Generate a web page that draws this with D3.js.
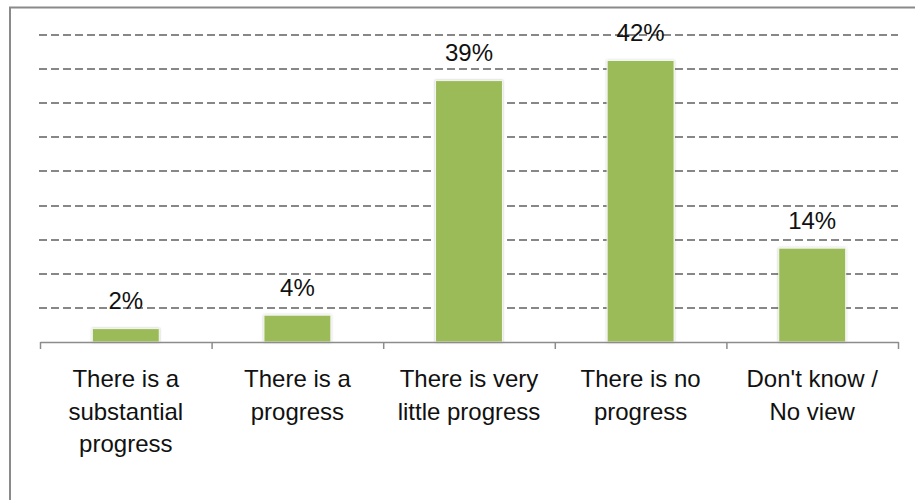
<!DOCTYPE html>
<html>
<head>
<meta charset="utf-8">
<script src="https://cdn.jsdelivr.net/npm/d3@7/dist/d3.min.js"></script>
<style>
  html, body { margin: 0; padding: 0; background: #ffffff; }
  svg { display: block; }
  text { font-family: "Liberation Sans", Arial, sans-serif; fill: #111111; }
</style>
</head>
<body>
<svg id="chart" width="915" height="500"></svg>
<script>
// Survey answers: perceived progress
const categories = [
  "There is a substantial progress",
  "There is a progress",
  "There is very little progress",
  "There is no progress",
  "Don't know / No view"
];
const categoryLines = [
  ["There is a", "substantial", "progress"],
  ["There is a", "progress"],
  ["There is very", "little progress"],
  ["There is no", "progress"],
  ["Don't know /", "No view"]
];
const values = [2, 4, 39, 42, 14];
const valueLabels = ["2%", "4%", "39%", "42%", "14%"];

const yMax = 45.8;       // top of the value axis (percent)
const gridDivisions = 9; // horizontal gridlines above the baseline

const svg = d3.select("#chart");

const plot = { left: 40, right: 898, top: 35, bottom: 342 };

// Outer frame of the chart area
svg.append("rect")
  .attr("x", 10).attr("y", 7.5)
  .attr("width", 940).attr("height", 520)
  .attr("fill", "#ffffff")
  .attr("stroke", "#8a8a8a")
  .attr("stroke-width", 2);

const x = d3.scaleBand()
  .domain(categories)
  .range([plot.left, plot.right])
  .paddingInner(0.61)
  .paddingOuter(0.305);

const y = d3.scaleLinear()
  .domain([0, yMax])
  .range([plot.bottom, plot.top]);

// Dashed gridlines
const gridValues = d3.range(1, gridDivisions + 1).map(i => i * yMax / gridDivisions);
svg.append("g")
  .attr("shape-rendering", "crispEdges")
  .selectAll("line")
  .data(gridValues)
  .join("line")
  .attr("x1", plot.left - 1)
  .attr("x2", plot.right)
  .attr("y1", d => Math.round(y(d)))
  .attr("y2", d => Math.round(y(d)))
  .attr("stroke", "#878787")
  .attr("stroke-width", 2)
  .attr("stroke-dasharray", "8,4");

// Soft shadow around the bars
const defs = svg.append("defs");
const f = defs.append("filter").attr("id", "barShadow")
  .attr("x", "-20%").attr("y", "-20%").attr("width", "140%").attr("height", "140%");
f.append("feDropShadow")
  .attr("dx", 0).attr("dy", 0)
  .attr("stdDeviation", 1.3)
  .attr("flood-color", "#000000")
  .attr("flood-opacity", 0.25);

// Bars
svg.append("g")
  .selectAll("rect")
  .data(values)
  .join("rect")
  .attr("x", (d, i) => x(categories[i]))
  .attr("y", d => y(d))
  .attr("width", x.bandwidth())
  .attr("height", d => y(0) - y(d))
  .attr("fill", "#9bbb59")
  .attr("stroke", "#f4f7ee")
  .attr("stroke-width", 1)
  .attr("filter", "url(#barShadow)");

// Category axis with ticks at the category boundaries
const edge = d3.scaleLinear()
  .domain([0, categories.length])
  .range([plot.left, plot.right]);
const axis = svg.append("g")
  .attr("transform", `translate(0,${plot.bottom})`)
  .call(d3.axisBottom(edge)
    .tickValues(d3.range(0, categories.length + 1))
    .tickFormat("")
    .tickSize(7)
    .tickSizeOuter(0));
axis.select(".domain").attr("stroke", "#8c8c8c").attr("stroke-width", 1.5);
axis.selectAll(".tick line").attr("stroke", "#8c8c8c").attr("stroke-width", 1.5);

// Category labels
const catG = svg.append("g")
  .selectAll("text")
  .data(categoryLines)
  .join("text")
  .attr("text-anchor", "middle")
  .attr("font-size", 24)
  .attr("x", (d, i) => x(categories[i]) + x.bandwidth() / 2)
  .attr("y", 387);
catG.selectAll("tspan")
  .data(d => d)
  .join("tspan")
  .attr("x", function () { return d3.select(this.parentNode).attr("x"); })
  .attr("dy", (d, j) => j === 0 ? 0 : 32.6)
  .text(d => d);

// Value labels
svg.append("g")
  .selectAll("text")
  .data(values)
  .join("text")
  .attr("text-anchor", "middle")
  .attr("font-size", 24)
  .attr("x", (d, i) => x(categories[i]) + x.bandwidth() / 2)
  .attr("y", d => y(d) - 19.5)
  .text((d, i) => valueLabels[i]);
</script>
</body>
</html>
